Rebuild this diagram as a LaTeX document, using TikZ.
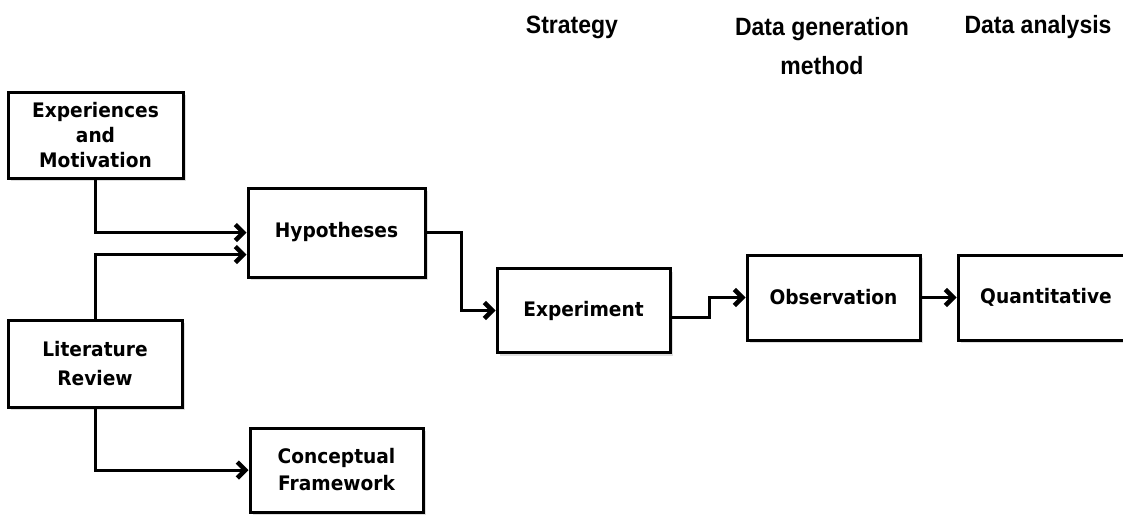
\documentclass[tikz,border=0pt]{standalone}
\usepackage{fontspec}
\usetikzlibrary{arrows.meta,calc,shadows}
\newfontfamily\boxfont{DejaVu Sans Bold}[FakeStretch=0.93]
\newfontfamily\headfont{Liberation Sans Bold}[FakeStretch=0.92]
\begin{document}
\begin{tikzpicture}[x=1pt,y=-1pt,
  stagebox/.style={draw=black, line width=3pt, fill=white, rectangle,
    minimum width=175pt, minimum height=86pt, align=center, inner sep=0pt,
    font=\boxfont\fontsize{20}{26}\selectfont,
    drop shadow={shadow xshift=3pt, shadow yshift=-3pt, fill=black, opacity=0.13}},
  link/.style={draw=black, line width=3pt, line join=miter,
    -{Straight Barb[length=8pt,width=16pt,line width=4.5pt]}},
  header/.style={align=center, inner sep=0pt,
    font=\headfont\fontsize{25}{39}\selectfont}]
  \useasboundingbox (0,0) rectangle (1123,517);

  % column headings
  \node[header] (hstrat) at (572,27) {Strategy};
  \node[header] (hdata) at (822,46) {Data generation\\method};
  \node[header] (hanal) at (1038,27) {Data analysis};

  % boxes
  \node[stagebox, minimum width=175pt, minimum height=86pt, font=\boxfont\fontsize{20}{25}\selectfont]
    (exp) at (95.5,135) {Experiences\\and\\Motivation};
  \node[stagebox, minimum width=177pt, minimum height=89pt] (hyp) at (336.5,232.5) {Hypotheses};
  \node[stagebox, minimum width=174pt, minimum height=87pt, font=\boxfont\fontsize{20}{29}\selectfont]
    (lit) at (95,363.5) {Literature\\Review};
  \node[stagebox, minimum width=173pt, minimum height=84pt, font=\boxfont\fontsize{20}{27}\selectfont]
    (con) at (336.5,470) {Conceptual\\Framework};
  \node[stagebox, minimum width=173pt, minimum height=84pt] (expm) at (583.5,310.5) {Experiment};
  \node[stagebox, minimum width=173pt, minimum height=85pt] (obs) at (833.5,297.5) {Observation};
  \node[stagebox, minimum width=176pt, minimum height=85pt] (qua) at (1046,297.5) {Quantitative};

  % connectors
  \draw[link] (exp.south) |- (hyp.west);
  \draw[link] (lit.north) |- ($(hyp.west)+(0,22)$);
  \draw[link] (lit.south) |- (con.west);
  \draw[link] (hyp.east) -- ++(35,0) |- (expm.west);
  \draw[link] ($(expm.east)+(0,7)$) -- ++(38,0) |- (obs.west);
  \draw[link] (obs.east) -- (qua.west);
\end{tikzpicture}
\end{document}
